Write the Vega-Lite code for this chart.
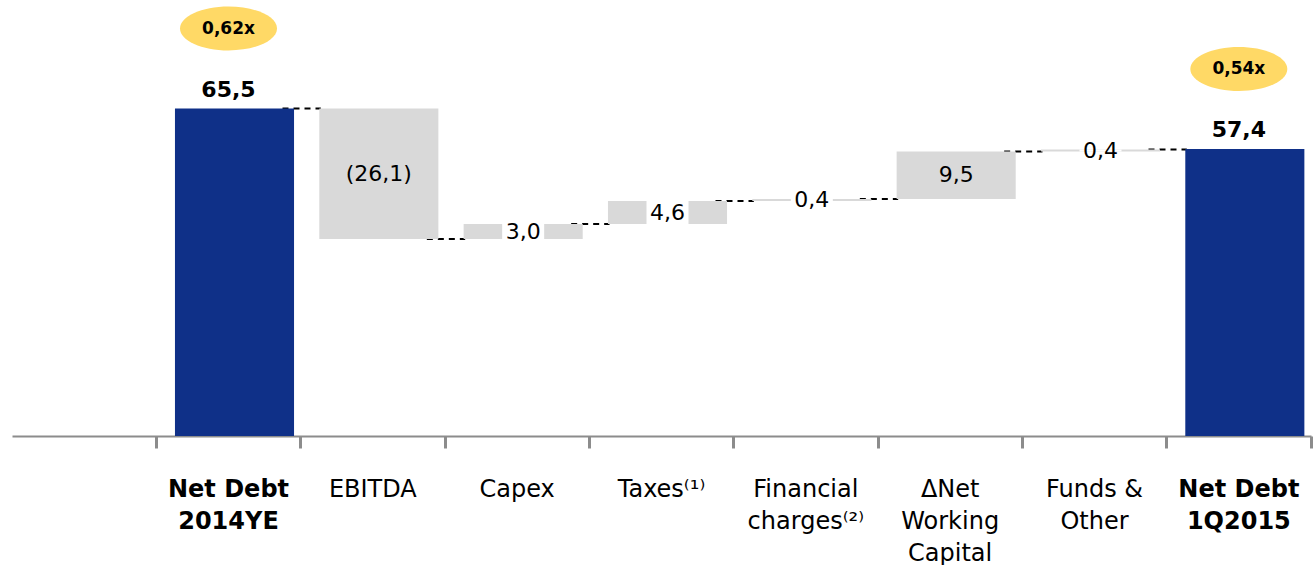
{
  "$schema": "https://vega.github.io/schema/vega-lite/v6.json",
  "width": 1299,
  "height": 436,
  "padding": {"left": 12, "top": 0, "right": 3, "bottom": 0},
  "background": "white",
  "config": {"view": {"stroke": null}, "font": "DejaVu Sans"},
  "data": {
    "values": [
      {"cat": "Net Debt|2014YE", "next": "EBITDA", "start": 0, "end": 65.5, "label": "65,5", "kind": "total", "ratio": "0,62x"},
      {"cat": "EBITDA", "next": "Capex", "start": 65.5, "end": 39.4, "label": "(26,1)", "kind": "delta", "ratio": ""},
      {"cat": "Capex", "next": "Taxes⁽¹⁾", "start": 39.4, "end": 42.4, "label": "3,0", "kind": "delta", "ratio": ""},
      {"cat": "Taxes⁽¹⁾", "next": "Financial|charges⁽²⁾", "start": 42.4, "end": 47.0, "label": "4,6", "kind": "delta", "ratio": ""},
      {"cat": "Financial|charges⁽²⁾", "next": "ΔNet|Working|Capital", "start": 47.0, "end": 47.4, "label": "0,4", "kind": "delta", "ratio": ""},
      {"cat": "ΔNet|Working|Capital", "next": "Funds &|Other", "start": 47.4, "end": 56.9, "label": "9,5", "kind": "delta", "ratio": ""},
      {"cat": "Funds &|Other", "next": "Net Debt|1Q2015", "start": 56.9, "end": 57.3, "label": "0,4", "kind": "delta", "ratio": ""},
      {"cat": "Net Debt|1Q2015", "next": "", "start": 0, "end": 57.4, "label": "57,4", "kind": "total", "ratio": "0,54x"}
    ]
  },
  "encoding": {
    "x": {
      "field": "cat",
      "type": "nominal",
      "sort": null,
      "title": null,
      "scale": {
        "domain": [" ", "Net Debt|2014YE", "EBITDA", "Capex", "Taxes⁽¹⁾", "Financial|charges⁽²⁾", "ΔNet|Working|Capital", "Funds &|Other", "Net Debt|1Q2015"],
        "paddingInner": 0,
        "paddingOuter": 0
      },
      "axis": {
        "bandPosition": 1,
        "domainColor": "#8C8C8C",
        "domainWidth": 2,
        "tickColor": "#8C8C8C",
        "tickWidth": 3,
        "tickSize": 12,
        "labelPadding": 29,
        "labelFontSize": 24,
        "labelFont": "DejaVu Sans",
        "labelColor": "#000000",
        "labelAngle": 0,
        "labelLineHeight": 32,
        "labelOverlap": false,
        "labelLimit": 300,
        "labelExpr": "split(datum.label, '|')",
        "labelFontWeight": {"condition": {"test": "indexof(datum.value, 'Net Debt') == 0", "value": "bold"}, "value": "normal"}
      }
    },
    "y": {"type": "quantitative", "scale": {"domain": [0, 87.2], "nice": false, "zero": false}, "axis": null}
  },
  "layer": [
    {
      "transform": [
        {"filter": "datum.next != ''"}
      ],
      "mark": {"type": "rule", "color": "#000000", "strokeWidth": 1.8, "strokeDash": [6, 5], "xOffset": 54, "x2Offset": -52},
      "encoding": {
        "x2": {"field": "next"},
        "y": {"field": "end", "type": "quantitative"}
      }
    },
    {
      "mark": {"type": "bar", "width": {"band": 0.825}, "xOffset": 6},
      "encoding": {
        "y": {"field": "start", "type": "quantitative"},
        "y2": {"field": "end"},
        "color": {"field": "kind", "type": "nominal", "scale": {"domain": ["total", "delta"], "range": ["#0F3088", "#D9D9D9"]}, "legend": null}
      }
    },
    {
      "transform": [{"filter": "datum.kind == 'delta' && abs(datum.end - datum.start) < 5"}],
      "mark": {"type": "bar", "width": 42, "color": "white", "xOffset": 6},
      "encoding": {
        "y": {"field": "start", "type": "quantitative"},
        "y2": {"field": "end"}
      }
    },
    {
      "transform": [
        {"filter": "datum.kind == 'delta'"},
        {"calculate": "(datum.start + datum.end) / 2", "as": "mid"}
      ],
      "mark": {"type": "text", "fontSize": 22, "baseline": "middle", "align": "center", "color": "#000000", "xOffset": 6},
      "encoding": {
        "y": {"field": "mid", "type": "quantitative"},
        "text": {"field": "label"}
      }
    },
    {
      "transform": [{"filter": "datum.kind == 'total'"}],
      "mark": {"type": "text", "fontSize": 22, "fontWeight": "bold", "baseline": "alphabetic", "align": "center", "dy": -12, "color": "#000000"},
      "encoding": {
        "y": {"field": "end", "type": "quantitative"},
        "text": {"field": "label"}
      }
    },
    {
      "transform": [{"filter": "datum.kind == 'total'"}],
      "mark": {"type": "point", "shape": "M -1 0 A 1 0.4536 0 1 1 1 0 A 1 0.4536 0 1 1 -1 0 Z", "size": 9409, "filled": true, "color": "#FFD966", "opacity": 1, "strokeWidth": 0, "yOffset": -80},
      "encoding": {
        "y": {"field": "end", "type": "quantitative"}
      }
    },
    {
      "transform": [{"filter": "datum.kind == 'total'"}],
      "mark": {"type": "text", "fontSize": 17, "fontWeight": "bold", "baseline": "middle", "align": "center", "dy": -80, "color": "#000000"},
      "encoding": {
        "y": {"field": "end", "type": "quantitative"},
        "text": {"field": "ratio"}
      }
    }
  ]
}
